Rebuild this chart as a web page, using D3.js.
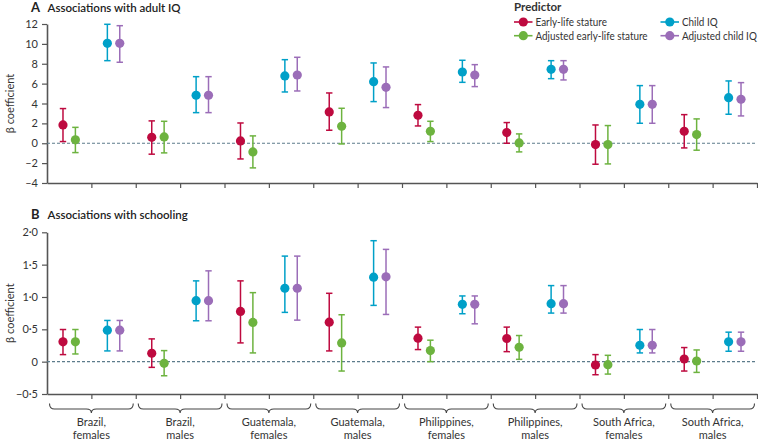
<!DOCTYPE html>
<html><head><meta charset="utf-8">
<script src="https://cdn.jsdelivr.net/npm/d3@7"></script>
<style>
html,body{margin:0;padding:0;background:#fff;}
svg{display:block;font-family:Lato,"Open Sans",sans-serif;}
</style></head>
<body><svg id="c" width="758" height="439"></svg>
<script>
// ---------- DATA ----------
const groups = ["Brazil, females","Brazil, males","Guatemala, females","Guatemala, males","Philippines, females","Philippines, males","South Africa, females","South Africa, males"];
const series = ["Early-life stature","Adjusted early-life stature","Child IQ","Adjusted child IQ"];
const colors = ["#be0a3f","#6db33f","#00a0c8","#9b6db8"];

// Panel A: adult IQ  [estimate, lower, upper] per group
const iqEarly     = [[1.84,0.17,3.49],[0.6,-1.1,2.25],[0.23,-1.58,2.04],[3.15,1.31,5.06],[2.82,1.74,3.89],[1.07,0.0,2.08],[-0.13,-2.11,1.84],[1.21,-0.47,2.88]];
const iqEarlyAdj  = [[0.34,-0.94,1.6],[0.64,-0.97,2.21],[-0.87,-2.48,0.74],[1.71,-0.07,3.52],[1.21,0.17,2.21],[0.03,-0.87,0.94],[-0.13,-2.08,1.78],[0.87,-0.7,2.45]];
const iqChild     = [[10.06,8.31,11.97],[4.83,3.08,6.7],[6.77,5.16,8.41],[6.2,4.19,8.08],[7.17,6.13,8.35],[7.44,6.5,8.31],[3.92,2.01,5.8],[4.59,2.92,6.27]];
const iqChildAdj  = [[10.06,8.15,11.83],[4.83,3.08,6.7],[6.87,5.26,8.65],[5.63,3.59,7.68],[6.87,5.7,7.91],[7.44,6.37,8.31],[3.92,2.01,5.8],[4.43,2.75,6.1]];

// Panel B: schooling
const schEarly    = [[0.306,0.109,0.497],[0.13,-0.088,0.352],[0.777,0.29,1.249],[0.611,0.166,1.057],[0.363,0.187,0.534],[0.358,0.155,0.534],[-0.052,-0.202,0.109],[0.041,-0.145,0.218]];
const schEarlyAdj = [[0.306,0.119,0.497],[-0.026,-0.218,0.171],[0.606,0.135,1.067],[0.29,-0.145,0.725],[0.171,0.0,0.332],[0.223,0.036,0.404],[-0.047,-0.192,0.098],[0.01,-0.166,0.181]];
const schChild    = [[0.487,0.166,0.637],[0.943,0.632,1.249],[1.135,0.762,1.632],[1.306,0.87,1.87],[0.886,0.741,1.016],[0.896,0.751,1.176],[0.254,0.135,0.497],[0.306,0.161,0.456]];
const schChildAdj = [[0.487,0.166,0.637],[0.943,0.632,1.404],[1.135,0.642,1.632],[1.311,0.73,1.736],[0.886,0.585,1.016],[0.896,0.751,1.176],[0.254,0.135,0.497],[0.306,0.161,0.456]];

const ticksA = [-4,-2,0,2,4,6,8,10,12];
const ticksB = [-0.5,0,0.5,1.0,1.5,2.0];

// ---------- LAYOUT ----------
const svg = d3.select("#c");
const X0 = 47, X1 = 757;
const x = d3.scaleBand().domain(groups).range([X0, X1]).paddingInner(0).paddingOuter(0);
const half = d3.scaleLinear().domain([0,16]).range([X0, X1]);
const pairOffset = 6.2;
function xPos(g, si){
  const b = x(g), w = x.bandwidth();
  const c = si < 2 ? b + w*0.25 : b + w*0.75;
  return c + (si % 2 === 0 ? -pairOffset : pairOffset);
}
const fmt = v => String(v).replace("-", "\u2013").replace(".", "\u00b7");
const fmtB = v => (v === 0 ? "0" : d3.format(".1f")(v)).replace("-", "\u2013").replace(".", "\u00b7");
const axisColor = "#555";

function panel(opts){
  const {yDomain, yRange, ticks, tf, data, letter, title, titleY} = opts;
  const y = d3.scaleLinear().domain(yDomain).range(yRange);
  const g = svg.append("g");

  g.append("text").attr("x", 31).attr("y", titleY).attr("font-size", 13).attr("font-weight", 700).attr("fill","#222").text(letter);
  g.append("text").attr("x", 47.5).attr("y", titleY).attr("font-size", 11.5).attr("font-weight", 600).attr("fill","#222").text(title);

  const ya = g.append("g").attr("transform", `translate(${X0},0)`)
    .call(d3.axisLeft(y).tickValues(ticks).tickFormat(tf).tickSize(5).tickSizeOuter(0));
  ya.select(".domain").attr("stroke", axisColor).attr("stroke-width", 1.6);
  ya.selectAll(".tick line").attr("stroke", axisColor).attr("stroke-width", 1.2);
  ya.selectAll(".tick text").attr("font-size", 11).attr("fill","#333").attr("font-family","Lato,sans-serif").attr("dx", -1);

  const ym = (yRange[0]+yRange[1])/2;
  g.append("text").attr("transform", `translate(14,${ym}) rotate(-90)`).attr("text-anchor","middle")
    .attr("font-size", 11).attr("fill","#333").text("\u03b2 coefficient");

  const xa = g.append("g").attr("transform", `translate(0,${yRange[0]})`)
    .call(d3.axisBottom(half).tickValues(d3.range(1,17)).tickFormat("").tickSize(5).tickSizeOuter(0));
  xa.select(".domain").attr("stroke", axisColor).attr("stroke-width", 1.6);
  xa.selectAll(".tick line").attr("stroke", axisColor).attr("stroke-width", 1.2);

  g.append("line").attr("x1", X0).attr("x2", X1).attr("y1", y(0)).attr("y2", y(0))
    .attr("stroke", "#5d7c8c").attr("stroke-width", 1.1).attr("stroke-dasharray", "3,2");

  data.forEach((ser, si) => {
    const col = colors[si];
    const sg = g.append("g");
    const items = ser.map((d,i) => ({g: groups[i], est: d[0], lo: d[1], hi: d[2]}));
    sg.selectAll("line.v").data(items).join("line").attr("class","v")
      .attr("x1", d => xPos(d.g, si)).attr("x2", d => xPos(d.g, si))
      .attr("y1", d => y(d.lo)).attr("y2", d => y(d.hi))
      .attr("stroke", col).attr("stroke-width", 1.5);
    ["lo","hi"].forEach(k => {
      sg.selectAll("line.c"+k).data(items).join("line").attr("class","c"+k)
        .attr("x1", d => xPos(d.g, si)-3.2).attr("x2", d => xPos(d.g, si)+3.2)
        .attr("y1", d => y(d[k])).attr("y2", d => y(d[k]))
        .attr("stroke", col).attr("stroke-width", 1.5);
    });
    sg.selectAll("circle").data(items).join("circle")
      .attr("cx", d => xPos(d.g, si)).attr("cy", d => y(d.est)).attr("r", 4.6)
      .attr("fill", col);
  });
  return y;
}

panel({yDomain:[-4,12], yRange:[183,24], ticks:ticksA, tf: fmt, letter:"A", title:"Associations with adult IQ", titleY:12,
  data:[iqEarly, iqEarlyAdj, iqChild, iqChildAdj]});
panel({yDomain:[-0.5,2], yRange:[394,232.3], ticks:ticksB, tf: fmtB, letter:"B", title:"Associations with schooling", titleY:219,
  data:[schEarly, schEarlyAdj, schChild, schChildAdj]});

// brackets and group labels
const bg = svg.append("g");
groups.forEach(gname => {
  const a = x(gname) + 2.5, b = x(gname) + x.bandwidth() - 2.5, m = (a+b)/2;
  const t = 403.5, mid = 409, bot = 413;
  const p = `M${a},${t} Q${a},${mid} ${a+5},${mid} L${m-5},${mid} Q${m},${mid} ${m},${bot} Q${m},${mid} ${m+5},${mid} L${b-5},${mid} Q${b},${mid} ${b},${t}`;
  bg.append("path").attr("d", p).attr("fill","none").attr("stroke","#444").attr("stroke-width",1.1);
  const comma = gname.indexOf(",");
  const l1 = gname.slice(0, comma+1), l2 = gname.slice(comma+2);
  const tx = bg.append("text").attr("text-anchor","middle").attr("font-size",11).attr("fill","#333");
  tx.append("tspan").attr("x", m).attr("y", 426).text(l1);
  tx.append("tspan").attr("x", m).attr("y", 438.5).text(l2);
});

// legend
const lg = svg.append("g");
lg.append("text").attr("x", 514).attr("y", 11).attr("font-size", 11.5).attr("font-weight", 700).attr("fill","#333").text("Predictor");
const legPos = [[514,22],[514,35.7],[660.5,22],[660.5,35.7]];
series.forEach((s, i) => {
  const [lx, ly] = legPos[i];
  lg.append("line").attr("x1", lx).attr("x2", lx+18.5).attr("y1", ly).attr("y2", ly).attr("stroke", colors[i]).attr("stroke-width", 1.6);
  lg.append("circle").attr("cx", lx+9.3).attr("cy", ly).attr("r", 4.6).attr("fill", colors[i]);
  lg.append("text").attr("transform", `translate(${lx+21.5},${ly+4}) scale(0.9,1)`).attr("font-size", 11).attr("fill","#333").text(s);
});
</script>
</body></html>
